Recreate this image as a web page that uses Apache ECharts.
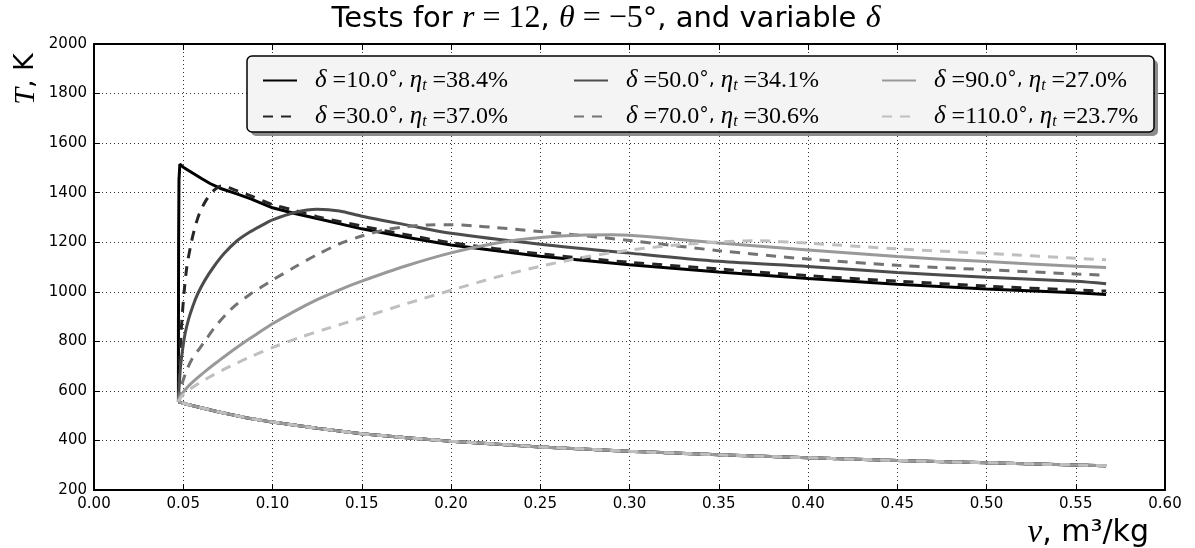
<!DOCTYPE html>
<html>
<head>
<meta charset="utf-8">
<script src="https://cdn.jsdelivr.net/npm/echarts@6/dist/echarts.min.js"></script>
<style>
  html, body { margin: 0; padding: 0; background: #fff; }
  #chart { width: 1195px; height: 548px; }
</style>
</head>
<body>
<div id="chart"></div>
<script>
// compression stroke, shared by every cycle (v goes from large to small)
var compV = [0.567, 0.55, 0.50, 0.45, 0.40, 0.35, 0.30, 0.25, 0.20, 0.175, 0.15, 0.125, 0.10, 0.085, 0.07, 0.06, 0.052, 0.0473];
var compT = [298, 301, 310, 319, 330, 342, 356, 374, 397, 411, 427, 449, 474, 492, 515, 532, 546, 556];

// heat addition + expansion, one pair of arrays per delta
var v10 = [0.0473, 0.0473, 0.0474, 0.0476, 0.0481, 0.050, 0.055, 0.06, 0.065, 0.0706, 0.08, 0.0875, 0.10, 0.1125, 0.125, 0.15, 0.175, 0.20, 0.25, 0.30, 0.35, 0.40, 0.45, 0.50, 0.55, 0.567];
var T10 = [556, 800, 1200, 1450, 1515, 1503, 1480, 1458, 1437, 1418, 1395, 1376, 1339, 1316, 1296, 1254, 1220, 1189, 1143, 1109, 1080, 1054, 1030, 1011, 996, 989];

var v30 = [0.0473, 0.0476, 0.048, 0.049, 0.0505, 0.052, 0.054, 0.056, 0.059, 0.063, 0.067, 0.0715, 0.08, 0.0875, 0.10, 0.1125, 0.125, 0.15, 0.175, 0.20, 0.25, 0.30, 0.35, 0.40, 0.45, 0.50, 0.55, 0.567];
var T30 = [556, 620, 720, 860, 1000, 1100, 1180, 1245, 1315, 1372, 1408, 1427, 1408, 1388, 1352, 1328, 1303, 1265, 1230, 1198, 1153, 1119, 1092, 1065, 1043, 1023, 1007, 1003];

var v50 = [0.0473, 0.0474, 0.0478, 0.0485, 0.0495, 0.051, 0.053, 0.0555, 0.058, 0.062, 0.067, 0.073, 0.08, 0.0875, 0.094, 0.10, 0.1125, 0.125, 0.1375, 0.15, 0.175, 0.20, 0.25, 0.30, 0.35, 0.40, 0.45, 0.50, 0.55, 0.567];
var T50 = [556, 580, 630, 700, 760, 830, 890, 945, 990, 1045, 1100, 1155, 1205, 1242, 1268, 1290, 1320, 1333, 1326, 1305, 1270, 1236, 1192, 1156, 1123, 1102, 1078, 1059, 1042, 1032];

var v70 = [0.0473, 0.0474, 0.048, 0.049, 0.0505, 0.052, 0.055, 0.059, 0.063, 0.068, 0.0745, 0.08, 0.0875, 0.094, 0.10, 0.1125, 0.125, 0.1375, 0.15, 0.1625, 0.175, 0.1875, 0.20, 0.2125, 0.225, 0.25, 0.275, 0.30, 0.35, 0.40, 0.45, 0.50, 0.55, 0.567];
var T70 = [556, 570, 590, 620, 655, 685, 730, 770, 810, 860, 913, 950, 990, 1020, 1047, 1100, 1150, 1193, 1225, 1249, 1263, 1270, 1271, 1266, 1259, 1243, 1226, 1207, 1166, 1132, 1107, 1089, 1072, 1067];

var v90 = [0.0473, 0.049, 0.052, 0.056, 0.06, 0.064, 0.07, 0.075, 0.08, 0.0875, 0.0933, 0.10, 0.1125, 0.125, 0.1375, 0.15, 0.175, 0.20, 0.225, 0.25, 0.275, 0.29, 0.30, 0.325, 0.35, 0.40, 0.45, 0.50, 0.55, 0.567];
var T90 = [556, 585, 612, 640, 665, 689, 722, 749, 775, 812, 840, 871, 922, 968, 1008, 1043, 1105, 1157, 1196, 1219, 1229, 1230, 1228, 1213, 1197, 1169, 1142, 1122, 1103, 1098];

var v110 = [0.0473, 0.0474, 0.048, 0.05, 0.052, 0.056, 0.06, 0.064, 0.072, 0.08, 0.0875, 0.10, 0.115, 0.13, 0.15, 0.175, 0.20, 0.225, 0.25, 0.275, 0.30, 0.325, 0.35, 0.37, 0.40, 0.45, 0.50, 0.55, 0.567];
var T110 = [556, 560, 568, 585, 598, 618, 636, 653, 684, 712, 737, 775, 815, 850, 895, 952, 1006, 1058, 1103, 1140, 1168, 1188, 1201, 1206, 1196, 1173, 1155, 1135, 1129];

var deltas = ['10.0', '30.0', '50.0', '70.0', '90.0', '110.0'];
var etas = ['38.4', '37.0', '34.1', '30.6', '27.0', '23.7'];
var xTicks = [0, 0.6, 0.05];
var yTicks = [200, 2000, 200];

var cycleV = [v10, v30, v50, v70, v90, v110];
var cycleT = [T10, T30, T50, T70, T90, T110];
var greys = ['#000000', '#262626', '#4c4c4c', '#737373', '#999999', '#bfbfbf'];
var dashed = [false, true, false, true, false, true];

var SERIF = '"Liberation Serif", "DejaVu Serif", serif';
var SANS = '"DejaVu Sans", sans-serif';

var richMath = {
  sp: { width: 13 },
  g: { fontFamily: SERIF, fontStyle: 'italic', fontSize: 25, color: '#000' },
  n: { fontFamily: SERIF, fontSize: 24, color: '#000' },
  d: { fontFamily: SANS, fontSize: 19, color: '#000' },
  s: { fontFamily: SERIF, fontStyle: 'italic', fontSize: 16, color: '#000', padding: [11, 0, 0, 0] }
};

function seriesName(i) {
  return 'δ=' + deltas[i] + '°, ηt =' + etas[i] + '%';
}

function lineStyleOf(i) {
  return { color: greys[i], width: 3, type: dashed[i] ? [10, 8] : 'solid' };
}

var series = [];
for (var i = 0; i < 6; i++) {
  var comp = [];
  for (var k = 0; k < compV.length; k++) comp.push([compV[k], compT[k]]);
  var cyc = [];
  for (var k = 0; k < cycleV[i].length; k++) cyc.push([cycleV[i][k], cycleT[i][k]]);
  series.push({
    name: 'compression ' + i,
    type: 'line',
    showSymbol: false,
    symbol: 'none',
    z: 2 + i,
    lineStyle: lineStyleOf(i),
    data: comp
  });
  series.push({
    name: seriesName(i),
    type: 'line',
    showSymbol: false,
    symbol: 'none',
    smooth: i === 0 ? false : 0.3,
    z: 2 + i,
    lineStyle: lineStyleOf(i),
    itemStyle: { color: greys[i] },
    data: cyc
  });
}

function legendFmt(name) {
  var i = -1;
  for (var k = 0; k < 6; k++) if (seriesName(k) === name) i = k;
  return '{sp|}{g|δ}{n| =' + deltas[i] + '}{d|°, }{g|η}{s|t}{n| =' + etas[i] + '%}';
}

function makeLegend(left, a, b) {
  return {
    orient: 'vertical',
    left: left,
    top: 63,
    itemWidth: 34,
    itemHeight: 14,
    itemGap: 10,
    z: 60,
    itemStyle: { opacity: 0 },
    data: [seriesName(a), seriesName(b)],
    formatter: legendFmt,
    textStyle: { rich: richMath, lineHeight: 25 }
  };
}

var axisCommon = {
  type: 'value',
  axisLine: { show: true, onZero: false, lineStyle: { color: '#000', width: 2 } },
  axisTick: { show: true, inside: true, length: 6, lineStyle: { color: '#000', width: 1 } }
};

var chart = echarts.init(document.getElementById('chart'));
chart.setOption({
  animation: false,
  backgroundColor: '#fff',
  grid: { left: 94, right: 30, top: 44, bottom: 58 },
  xAxis: [
    Object.assign({}, axisCommon, {
      min: xTicks[0], max: xTicks[1], interval: xTicks[2],
      position: 'bottom',
      axisLabel: { color: '#000', fontFamily: SANS, fontSize: 15, margin: 7,
        formatter: function (v) { return v.toFixed(2); } },
      splitLine: { show: true, lineStyle: { color: '#333', width: 1, type: [1, 3] } }
    }),
    Object.assign({}, axisCommon, {
      min: xTicks[0], max: xTicks[1], interval: xTicks[2],
      position: 'top',
      axisLabel: { show: false },
      splitLine: { show: false }
    })
  ],
  yAxis: [
    Object.assign({}, axisCommon, {
      min: yTicks[0], max: yTicks[1], interval: yTicks[2],
      position: 'left',
      axisLabel: { color: '#000', fontFamily: SANS, fontSize: 15, margin: 7,
        formatter: function (v) { return String(v); } },
      splitLine: { show: true, lineStyle: { color: '#333', width: 1, type: [1, 3] } }
    }),
    Object.assign({}, axisCommon, {
      min: yTicks[0], max: yTicks[1], interval: yTicks[2],
      position: 'right',
      axisLabel: { show: false },
      splitLine: { show: false }
    })
  ],
  legend: [
    makeLegend(257, 0, 1),
    makeLegend(568, 2, 3),
    makeLegend(876, 4, 5)
  ],
  graphic: [
    // legend frame + shadow
    { type: 'rect', z: 50, shape: { x: 251, y: 60, width: 907, height: 76, r: 5 },
      style: { fill: 'rgba(0,0,0,0.45)' } },
    { type: 'rect', z: 51, shape: { x: 247, y: 56, width: 907, height: 76, r: 5 },
      style: { fill: '#f4f4f4', stroke: '#000', lineWidth: 1.5 } },
    // title
    { type: 'text', z: 60, x: 606, y: 19,
      style: {
        text: '{a|Tests for }{m|r}{n| = 12}{a|, }{m|θ}{n| = −5}{a|°, and variable }{m|δ}',
        align: 'center', verticalAlign: 'middle',
        rich: {
          a: { fontFamily: SANS, fontSize: 29, fill: '#000' },
          m: { fontFamily: SERIF, fontStyle: 'italic', fontSize: 32, fill: '#000' },
          n: { fontFamily: SERIF, fontSize: 32, fill: '#000' }
        }
      } },
    // y axis name
    { type: 'text', z: 60, x: 26, y: 79, rotation: Math.PI / 2,
      style: {
        text: '{m|T}{a|, K}',
        align: 'center', verticalAlign: 'middle',
        rich: {
          a: { fontFamily: SANS, fontSize: 27, fill: '#000' },
          m: { fontFamily: SERIF, fontStyle: 'italic', fontSize: 30, fill: '#000' }
        }
      } },
    // x axis name
    { type: 'text', z: 60, x: 1149, y: 533,
      style: {
        text: '{m|v}{a|, m³/kg}',
        align: 'right', verticalAlign: 'middle',
        rich: {
          a: { fontFamily: SANS, fontSize: 30, fill: '#000' },
          m: { fontFamily: SERIF, fontStyle: 'italic', fontSize: 33, fill: '#000' }
        }
      } }
  ],
  series: series
});
</script>
</body>
</html>
